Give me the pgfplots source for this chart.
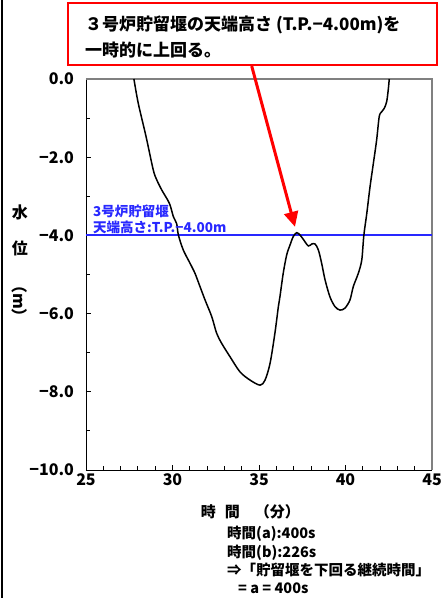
\documentclass[border=0pt]{standalone}
\usepackage{fontspec}
\setmainfont{Noto Sans CJK JP}
\usepackage{pgfplots}
\pgfplotsset{compat=1.18}
\usetikzlibrary{arrows.meta}
\definecolor{refblue}{RGB}{40,40,255}
\begin{document}
\begin{tikzpicture}[x=1pt,y=1pt]
\path[use as bounding box] (0,0) rectangle (441,598);
\draw[black, line width=2.5pt] (2,0) -- (2,598);
\begin{axis}[
  at={(86pt,128pt)}, anchor=south west,
  scale only axis, width=346pt, height=391pt,
  xmin=25,xmax=45,ymin=-10,ymax=0,
  axis lines*=left,
  axis line style={black, line width=0.9pt},
  xtick={25,30,35,40,45},
  minor x tick num=4,
  ytick={-10,-8,-6,-4,-2,0},
  yticklabels={−10.0,−8.0,−6.0,−4.0,−2.0,0.0},
  minor y tick num=1,
  tick align=inside,
  major tick length=5pt, minor tick length=3.5pt,
  tick style={black, line width=0.8pt},
  ticklabel style={font=\fontsize{16}{16}\selectfont\bfseries},
  /pgf/number format/assume math mode=true,
  yticklabel style={xshift=-8.5pt},
  clip=false,
]
\draw[gray, line width=1.3pt] (rel axis cs:0,1) -- (rel axis cs:1,1) -- (rel axis cs:1,0);
\addplot[color=refblue, mark=none, line width=2pt] coordinates {(25,-4) (45,-4)};
\addplot[color=black, mark=none, line width=1.5pt, smooth, tension=0.5] coordinates {
(27.77,0) (28.02,-0.62) (28.47,-1.47) (28.89,-2.33) (29.09,-2.58) (29.38,-2.84)
(29.82,-3.18) (30.05,-3.52) (30.24,-3.70) (30.34,-3.99) (30.62,-4.37) (31.01,-4.71)
(31.30,-4.97) (31.59,-5.31) (31.88,-5.65) (32.27,-6.08) (32.55,-6.50) (32.84,-6.76)
(33.32,-7.10) (33.90,-7.49) (34.48,-7.70) (35.06,-7.83) (35.35,-7.70) (35.64,-7.27)
(35.92,-6.50) (36.12,-5.82) (36.21,-5.57) (36.40,-4.97) (36.60,-4.50) (36.79,-4.25)
(36.98,-4.03) (37.18,-3.93) (37.37,-3.99) (37.56,-4.10) (37.85,-4.27) (38.05,-4.22)
(38.24,-4.22) (38.43,-4.37) (38.62,-4.71) (38.82,-5.14) (39.10,-5.57) (39.39,-5.82)
(39.68,-5.91) (39.97,-5.86) (40.26,-5.65) (40.45,-5.31) (40.74,-4.97) (40.94,-4.63)
(41.06,-4.00) (41.23,-3.44) (41.42,-2.75) (41.61,-2.16) (41.80,-1.56) (41.95,-0.96)
(42.09,-0.84) (42.24,-0.75) (42.38,-0.58) (42.47,-0.28) (42.53,0)
};
\coordinate (tip) at (axis cs:37.08,-3.78);
\node[anchor=center, font=\fontsize{15}{15}\selectfont\bfseries] at (axis description cs:0.475,-0.107) {時\hspace{0.6em}間\hspace{1.0em}（分）};
\end{axis}
% y label
\node[font=\fontsize{16}{16}\selectfont\bfseries] at (20,386) {水};
\node[font=\fontsize{16}{16}\selectfont\bfseries] at (20,350) {位};
\node[font=\fontsize{16}{16}\selectfont\bfseries, rotate=-90] at (20,297) {（m）};
% blue annotation
\node[anchor=west, inner sep=0pt, text=refblue, font=\fontsize{13.5}{13.5}\selectfont\bfseries] at (93,387) {3号炉貯留堰};
\node[anchor=west, inner sep=0pt, text=refblue, font=\fontsize{13.5}{13.5}\selectfont\bfseries] at (93,371) {天端高さ:T.P.−4.00m};
% red callout
\draw[red, line width=2.5pt, fill=white] (68,595) rectangle (437,533);
\node[anchor=west, inner sep=0pt, font=\fontsize{17}{17}\selectfont\bfseries] at (85,573.5) {３号炉貯留堰の天端高さ (T.P.−4.00m)を};
\node[anchor=west, inner sep=0pt, font=\fontsize{17}{17}\selectfont\bfseries] at (85,548) {一時的に上回る。};
\draw[red, line width=3pt, -{Triangle[length=15pt,width=14pt]}] (251.7,532) -- (tip);
% notes
\node[anchor=west, inner sep=0pt, font=\fontsize{14.5}{14.5}\selectfont\bfseries] at (227,64) {時間(a):400s};
\node[anchor=west, inner sep=0pt, font=\fontsize{14.5}{14.5}\selectfont\bfseries] at (227,45.5) {時間(b):226s};
\node[anchor=west, inner sep=0pt, font=\fontsize{14.5}{14.5}\selectfont\bfseries] at (227,28) {⇒「貯留堰を下回る継続時間」};
\node[anchor=west, inner sep=0pt, font=\fontsize{14.5}{14.5}\selectfont\bfseries] at (238,10) {= a = 400s};
\end{tikzpicture}
\end{document}
